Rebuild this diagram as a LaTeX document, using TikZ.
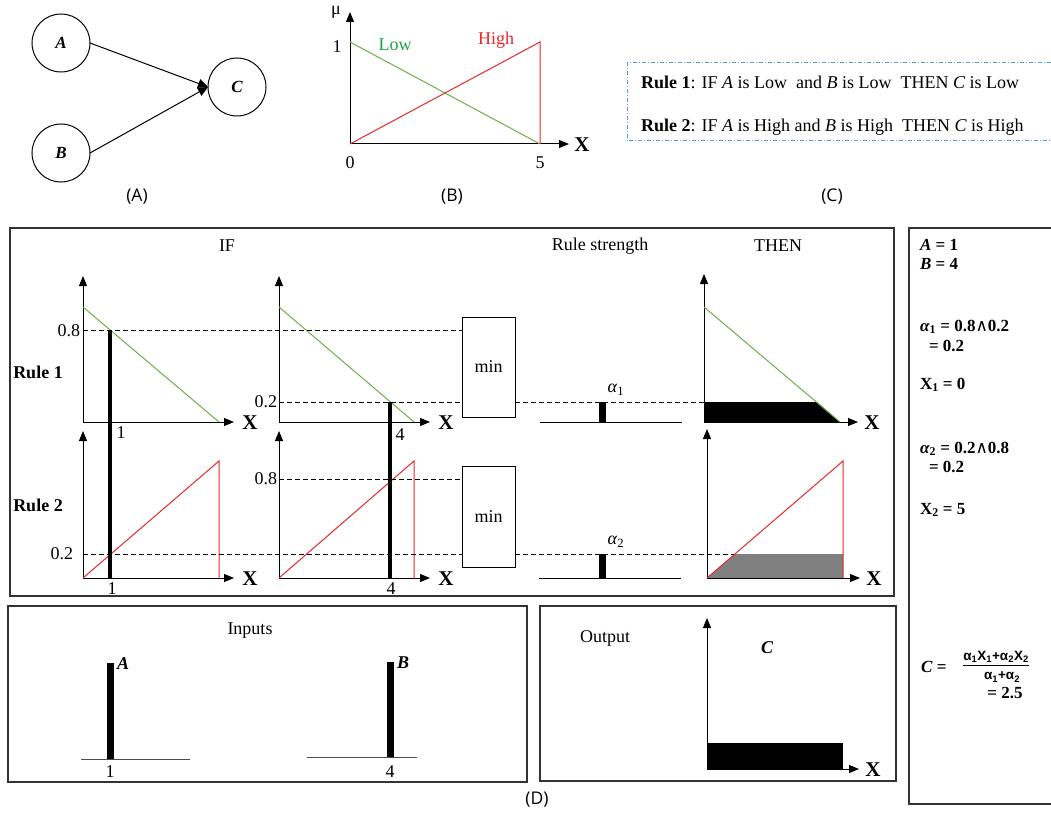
\documentclass[tikz,border=0pt]{standalone}
\usepackage{fontspec}
\setmainfont{Liberation Serif}
\newfontfamily\labfont{Open Sans}
\newfontfamily\fracfont{Liberation Sans}
\newfontfamily\symfont{DejaVu Serif}
\usetikzlibrary{arrows.meta}
\definecolor{lowgreen}{RGB}{112,173,71}
\definecolor{highred}{RGB}{230,40,45}
\definecolor{boxblue}{RGB}{91,155,213}
\definecolor{lowtxt}{RGB}{30,160,70}
\newcommand{\andsym}{{\symfont\mdseries\fontsize{17}{19}\selectfont ∧}}
\begin{document}
\begin{tikzpicture}[x=1pt,y=-1pt,
  every node/.style={inner sep=0pt,outer sep=0pt},
  txt/.style={font=\fontsize{18}{20}\selectfont},
  btxt/.style={font=\bfseries\fontsize{18}{20}\selectfont},
  xlab/.style={font=\bfseries\fontsize{21}{22}\selectfont},
  lab/.style={font=\labfont\fontsize{17.5}{19}\selectfont},
  rtxt/.style={font=\bfseries\fontsize{17}{19}\selectfont,anchor=west},
  fr/.style={font=\fracfont\bfseries\fontsize{13.5}{15}\selectfont},
  axis/.style={line width=1pt,-{Triangle[length=10pt,width=8pt]}},
  frame/.style={line width=1.1pt,draw=black!80},
  lowc/.style={draw=lowgreen,line width=1pt},
  highc/.style={draw=highred,line width=1pt},
  guide/.style={line width=1pt,dash pattern=on 5pt off 3pt},
  bar/.style={line width=4pt},
  sbar/.style={line width=7pt},
  circ/.style={circle,draw,line width=1pt,minimum size=58pt},
]
\useasboundingbox (0,0) rectangle (1051,813);
% ---------------- Panel A
\node[circ] (A) at (61,43) {\bfseries\itshape\fontsize{17}{18}\selectfont A};
\node[circ] (B) at (61,153) {\bfseries\itshape\fontsize{17}{18}\selectfont B};
\node[circ] (C) at (237,87) {\bfseries\itshape\fontsize{17}{18}\selectfont C};
\draw[line width=1pt,-{Triangle[length=10pt,width=9pt]}] (A.east) -- (C.west);
\draw[line width=1pt,-{Triangle[length=10pt,width=9pt]}] (B.east) -- (C.west);
\node[lab] (labA) at (137,197) {(A)};
% ---------------- Panel B
\coordinate (bO) at (350,144);
\coordinate (bY) at (350,12);
\coordinate (bX) at (569,144);
\draw[axis] (bO) -- (bY);
\draw[axis] (bO) -- (bX);
\node[txt] (mu) at (336,12) {μ};
\node[xlab] (bXl) at (582,145) {X};
\node[txt] (b1) at (337,47) {1};
\node[txt] (b0) at (350,163) {0};
\node[txt] (b5) at (540,163) {5};
\draw[lowc] (350,42) -- (540,144);
\draw[highc] (350,144) -- (540,42) -- (540,144);
\node[txt,text=lowtxt] (low) at (395,45) {Low};
\node[txt,text=highred] (high) at (496,40) {High};
\node[lab] (labB) at (452,197) {(B)};
% ---------------- Panel C
\draw[draw=boxblue,line width=1pt,dash pattern=on 4pt off 2pt on 1pt off 2pt]
  (1051,63) -- (627,63) -- (627,141) -- (1051,141);
\node[txt,anchor=west] (r1) at (641,82) {\textbf{Rule 1}: IF \textit{A} is Low\ \ and \textit{B} is Low\ \ THEN \textit{C} is Low};
\node[txt,anchor=west] (r2) at (641,127) {\textbf{Rule 2}: IF \textit{A} is High and \textit{B} is High\ \ THEN \textit{C} is High};
\node[lab] (labC) at (832,197) {(C)};
% ---------------- Panel D main frame
\draw[frame] (10,228) rectangle (894,596);
\node[txt] (if) at (227,246) {IF};
\node[txt] (rs) at (600,246) {Rule strength};
\node[txt] (then) at (778,246) {THEN};
\node[btxt] (rule1) at (38,372) {Rule 1};
\node[btxt] (rule2) at (38,505) {Rule 2};
% Rule 1, chart 1
\draw[axis] (83,422) -- (83,276);
\draw[axis] (83,422) -- (234,422);
\node[xlab] at (250,423) {X};
\draw[lowc] (83,307) -- (219,422);
% Rule 1, chart 2
\draw[axis] (279,422) -- (279,276);
\draw[axis] (279,422) -- (430,422);
\node[xlab] at (446,423) {X};
\draw[lowc] (279,307) -- (414,422);
% Rule 2, chart 1
\draw[axis] (83,578) -- (83,431);
\draw[axis] (83,578) -- (234,578);
\node[xlab] at (250,579) {X};
\draw[highc] (83,578) -- (219,461) -- (219,578);
% Rule 2, chart 2
\draw[axis] (279,578) -- (279,431);
\draw[axis] (279,578) -- (430,578);
\node[xlab] at (446,579) {X};
\draw[highc] (279,578) -- (414,461) -- (414,578);
% min boxes
\node[draw,line width=1pt,minimum width=53pt,minimum height=100pt,txt] (min1) at (488.5,367) {min};
\node[draw,line width=1pt,minimum width=53pt,minimum height=101pt,txt] (min2) at (488.5,516.5) {min};
% guide lines
\draw[guide] (83,330) -- (min1.west |- 0,330);
\draw[guide] (279,402) -- (min1.west |- 0,402);
\draw[guide] (min1.east |- 0,402) -- (704,402);
\draw[guide] (279,479) -- (min2.west |- 0,479);
\draw[guide] (83,554) -- (min2.west |- 0,554);
\draw[guide] (min2.east |- 0,554) -- (843,554);
% value labels
\node[txt,anchor=east] (v08a) at (80,331) {0.8};
\node[txt,anchor=east] (v02a) at (277,402) {0.2};
\node[txt,anchor=east] (v08b) at (277,479) {0.8};
\node[txt,anchor=east] (v02b) at (73,554) {0.2};
% input bars
\draw[bar] (110,330) -- (110,578);
\draw[bar] (390,402) -- (390,578);
\node[txt] (x1a) at (121,433) {1};
\node[txt] (x4a) at (400,435) {4};
\node[txt] (x1b) at (112,589) {1};
\node[txt] (x4b) at (391,589) {4};
% rule strength
\draw[line width=1pt] (540,422) -- (682,422);
\draw[sbar] (602,402) -- (602,422);
\node[txt] (a1) at (616,390) {\textit{α}\textsubscript{1}};
\draw[line width=1pt] (539,578) -- (681,578);
\draw[sbar] (602,554) -- (602,578);
\node[txt] (a2) at (616,542) {\textit{α}\textsubscript{2}};
% THEN rule 1
\fill (704,402) -- (817,402) -- (840,422) -- (704,422) -- cycle;
\draw[axis] (704,422) -- (704,274);
\draw[axis] (704,422) -- (858,422);
\node[xlab] at (872,423) {X};
\draw[lowc] (704,307) -- (840,422);
% THEN rule 2
\fill[black!50] (707,578) -- (735,554) -- (843,554) -- (843,578) -- cycle;
\draw[axis] (707,578) -- (707,429);
\draw[axis] (707,578) -- (860,578);
\node[xlab] at (874,579) {X};
\draw[highc] (707,578) -- (843,461) -- (843,578);
% ---------------- Inputs box
\draw[frame] (8,606) rectangle (527,782);
\node[txt] (inputs) at (250,631) {Inputs};
\draw[line width=1pt,draw=black!70] (81,759) -- (190,759);
\draw[sbar] (110,759) -- (110,663);
\node[txt,anchor=west] (inA) at (117,664) {\bfseries\itshape A};
\node[txt] (in1) at (110,772) {1};
\draw[line width=1pt,draw=black!70] (307,757) -- (417,757);
\draw[sbar] (390,757) -- (390,662);
\node[txt,anchor=west] (inB) at (397,663) {\bfseries\itshape B};
\node[txt] (in4) at (390,772) {4};
% ---------------- Output box
\draw[frame] (540,606) rectangle (896,781);
\node[txt] (output) at (605,638) {Output};
\fill (707,743) rectangle (843,769);
\draw[axis] (707,769) -- (707,618);
\draw[axis] (707,769) -- (859,769);
\node[xlab] at (873,770) {X};
\node[txt] (outC) at (767,648) {\bfseries\itshape C};
\node[lab] (labD) at (537,800) {(D)};
% ---------------- Right panel
\draw[frame] (1051,228) -- (909,228) -- (909,804) -- (1051,804);
\node[rtxt] (eqA) at (920,245) {\textit{A} = 1};
\node[rtxt] (eqB) at (920,264) {\textit{B} = 4};
\node[rtxt] (eqa1) at (920,327) {\textit{α}\textsubscript{1} = 0.8\andsym0.2};
\node[rtxt] (eqa1b) at (929,346) {= 0.2};
\node[rtxt] (eqX1) at (920,385) {X\textsubscript{1} = 0};
\node[rtxt] (eqa2) at (920,449) {\textit{α}\textsubscript{2} = 0.2\andsym0.8};
\node[rtxt] (eqa2b) at (929,467) {= 0.2};
\node[rtxt] (eqX2) at (920,510) {X\textsubscript{2} = 5};
\node[rtxt] (eqC) at (921,667) {\textit{C} =};
\node[fr] (num) at (996,657) {α\textsubscript{1}X\textsubscript{1}+α\textsubscript{2}X\textsubscript{2}};
\draw[line width=0.9pt] (num.south west) ++(0,3) coordinate (fl) -- (num.south east |- fl);
\node[fr] (den) at (1002,677) {α\textsubscript{1}+α\textsubscript{2}};
\node[rtxt,anchor=center] (res) at (1005,693) {= 2.5};
\end{tikzpicture}
\end{document}
